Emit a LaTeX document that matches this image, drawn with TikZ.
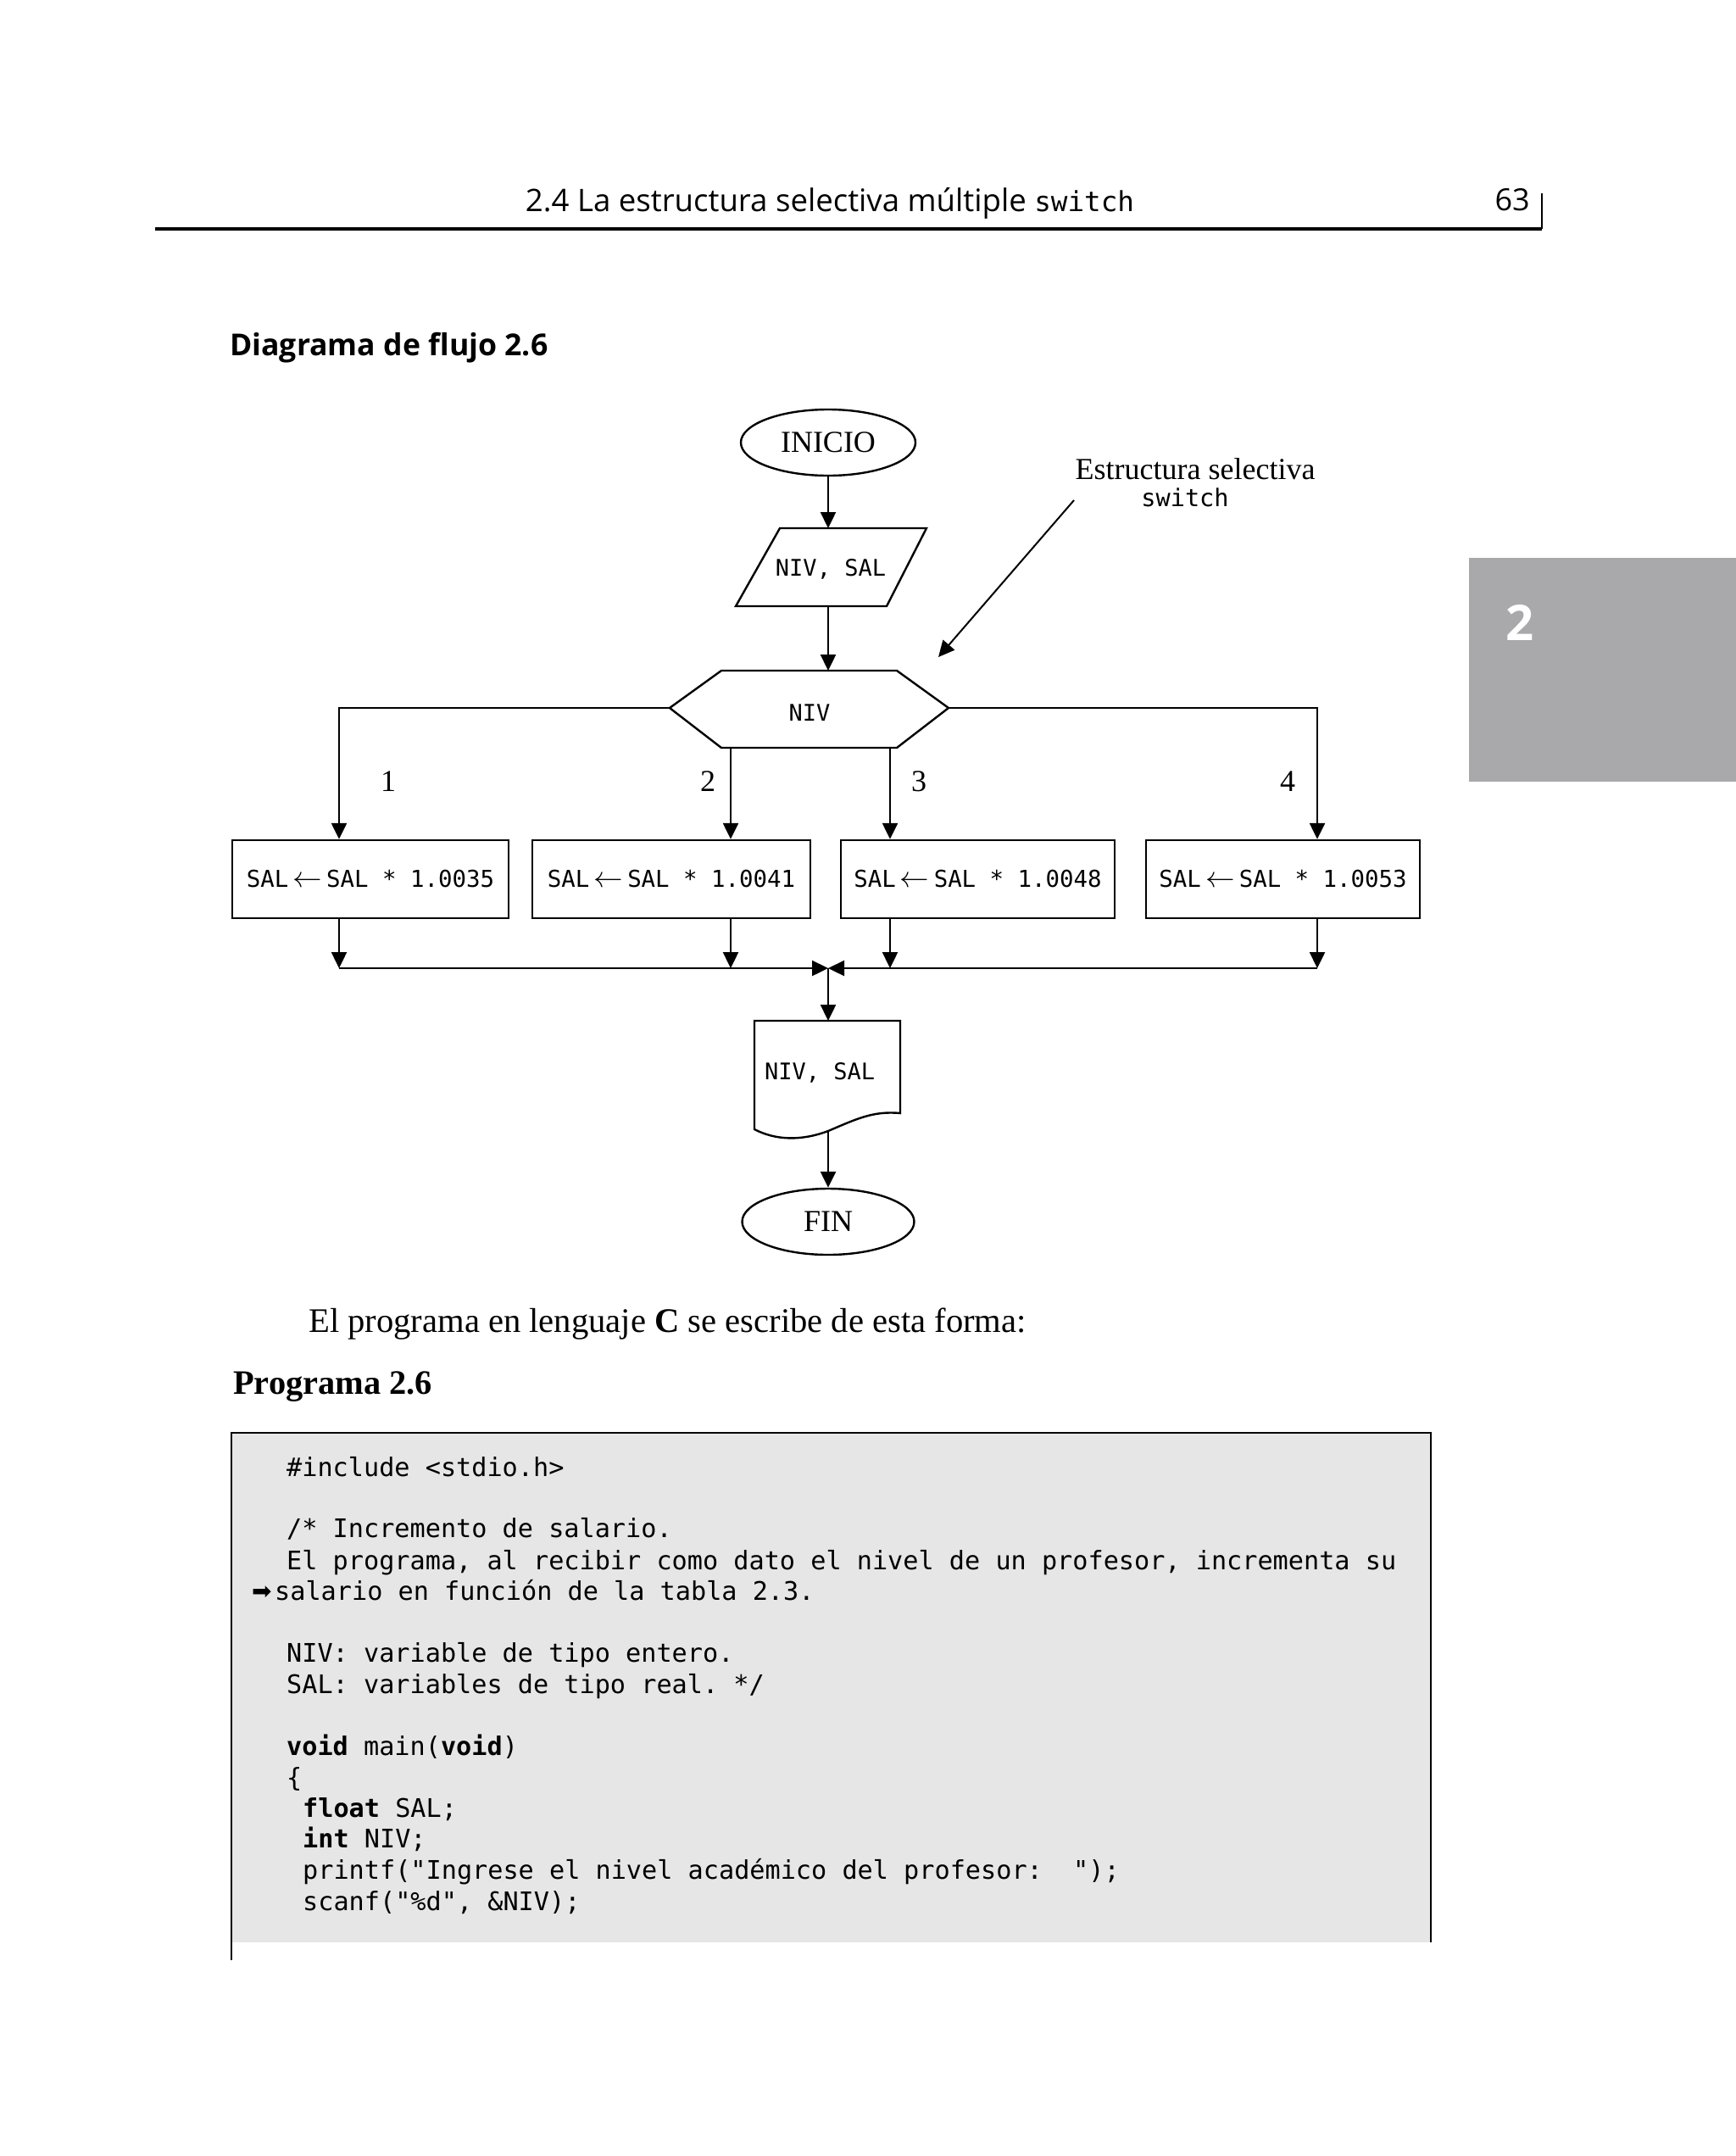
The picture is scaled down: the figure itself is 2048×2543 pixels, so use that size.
\documentclass[tikz,border=0pt]{standalone}
\usepackage{fontspec}
\setmainfont{Liberation Serif}
\newfontfamily\hdrfont{Open Sans}
\newfontfamily\monofont{DejaVu Sans Mono}
\newfontfamily\dejavufont{DejaVu Sans}
\usetikzlibrary{arrows.meta,shapes.geometric}
\definecolor{tabgray}{RGB}{169,169,171}
\definecolor{codegray}{RGB}{230,230,230}
\frenchspacing
\begin{document}
\begin{tikzpicture}[x=0.5pt,y=-0.5pt,line width=1.2pt,
  arr/.style={-{Triangle[length=9.5pt,width=9pt]}},
  term/.style={ellipse,draw,minimum width=103pt,minimum height=39pt,inner sep=0pt,font=\fontsize{18}{18}\selectfont},
  procbox/.style={rectangle,draw,minimum height=46pt,inner sep=0pt,font=\monofont\fontsize{13.7}{14}\selectfont},
  flow/.style={font=\monofont\fontsize{13.5}{14}\selectfont,inner sep=0pt},
  lbl/.style={font=\fontsize{18}{18}\selectfont,inner sep=0pt},
  codeline/.style={font=\monofont\fontsize{15.1}{15}\selectfont,inner sep=0pt,anchor=base west},
]
\useasboundingbox (0,0) rectangle (2048,2543);
\fill[white] (0,0) rectangle (2048,2543);

% ---------- page header ----------
\node[font=\hdrfont\fontsize{18.3}{18}\selectfont,anchor=base,inner sep=0pt] (hdr) at (979,249)
  {2.4 La estructura selectiva múltiple {\monofont\fontsize{16.3}{16}\selectfont switch}};
\node[font=\hdrfont\fontsize{18}{18}\selectfont,anchor=base east,inner sep=0pt] (pg) at (1806,248) {63};
\coordinate (ruleL) at (183,270);
\coordinate (ruleR) at (1819,270);
\coordinate (ruleT) at (1819,228);
\draw[line width=1.7pt] (ruleL) -- (ruleR);
\draw[line width=1pt] (ruleR) -- (ruleT);

% ---------- chapter tab ----------
\fill[tabgray] (1733,658) rectangle (2048,922);
\node[font=\hdrfont\bfseries\fontsize{29}{29}\selectfont,text=white,inner sep=0pt] (tab) at (1793,734) {2};

% ---------- title ----------
\node[font=\hdrfont\bfseries\fontsize{17.8}{17}\selectfont,anchor=base west,inner sep=0pt] (ttl) at (270,419) {Diagrama de flujo 2.6};

% ---------- flowchart ----------
\node[term] (inicio) at (977,522) {INICIO};

% input parallelogram
\coordinate (pTL) at (920,623);
\coordinate (pTR) at (1093,623);
\coordinate (pBR) at (1046,715);
\coordinate (pBL) at (868,715);
\coordinate (pTop) at (977,623);
\coordinate (pBot) at (977,715);
\draw (pTL) -- (pTR) -- (pBR) -- (pBL) -- cycle;
\node[flow] (leer) at (980,671) {NIV, SAL};
\draw[arr] (inicio.south) -- (pTop);

% hexagon (switch)
\coordinate (hW) at (790,835);
\coordinate (hTL) at (851,791);
\coordinate (hTR) at (1058,791);
\coordinate (hE) at (1119,835);
\coordinate (hBR) at (1058,882);
\coordinate (hBL) at (851,882);
\draw (hW) -- (hTL) -- (hTR) -- (hE) -- (hBR) -- (hBL) -- cycle;
\node[flow] (niv) at (955,841) {NIV};
\draw[arr] (pBot) -- (pBot |- hTL);

% process boxes
\newcommand{\salbox}[1]{SAL\makebox[3.0ex]{\fontsize{19}{19}\selectfont$\leftarrow$}SAL * #1}
\node[procbox,minimum width=163pt] (b1) at (437,1037) {\salbox{1.0035}};
\node[procbox,minimum width=164pt] (b2) at (792,1037) {\salbox{1.0041}};
\node[procbox,minimum width=161.5pt] (b3) at (1153.5,1037) {\salbox{1.0048}};
\node[procbox,minimum width=161.5pt] (b4) at (1513.5,1037) {\salbox{1.0053}};

% branches
\coordinate (k1) at (400,835);
\coordinate (k2) at (862,882);
\coordinate (k3) at (1050,882);
\coordinate (k4) at (1554,835);
\draw[arr] (hW) -- (k1) -- (k1 |- b1.north);
\draw[arr] (k2) -- (k2 |- b2.north);
\draw[arr] (k3) -- (k3 |- b3.north);
\draw[arr] (hE) -- (k4) -- (k4 |- b4.north);

\node[lbl] (l1) at (458,922) {1};
\node[lbl] (l2) at (835,922) {2};
\node[lbl] (l3) at (1084,922) {3};
\node[lbl] (l4) at (1519,922) {4};

% merge
\coordinate (m) at (977,1142);
\draw[arr] (k1 |- b1.south) -- (k1 |- m);
\draw[arr] (k2 |- b2.south) -- (k2 |- m);
\draw[arr] (k3 |- b3.south) -- (k3 |- m);
\draw[arr] (k4 |- b4.south) -- (k4 |- m);
\draw[arr] (k1 |- m) -- (m);
\draw[arr] (k4 |- m) -- (m);

% document (output)
\coordinate (dT) at (977,1204);
\coordinate (dB) at (977,1334);
\draw (890,1204) -- (1062,1204) -- (1062,1313)
  .. controls (1030,1310) and (1010,1320) .. (dB)
  .. controls (945,1346) and (915,1345) .. (890,1332) -- cycle;
\node[flow,anchor=west] (out) at (901,1265) {NIV, SAL};
\draw[arr] (m) -- (dT);

\node[term,minimum width=101.5pt] (fin) at (977,1441) {FIN};
\draw[arr] (dB) -- (fin.north);

% annotation
\node[lbl,anchor=base] (ann1) at (1410,565) {Estructura selectiva};
\node[font=\monofont\fontsize{14.3}{14}\selectfont,inner sep=0pt,anchor=base] (ann2) at (1398,597) {switch};
\coordinate (aS) at (1267,590);
\coordinate (aT) at (1107,775);
\draw[arr,line width=1pt] (aS) -- (aT);

% ---------- body text ----------
\node[font=\fontsize{20.3}{20}\selectfont,anchor=base west,inner sep=0pt] (txt) at (363,1571)
  {El programa en lenguaje \textbf{C} se escribe de esta forma:};
\node[font=\bfseries\fontsize{20.2}{20}\selectfont,anchor=base west,inner sep=0pt] (prog) at (274,1644)
  {Programa 2.6};

% ---------- code box ----------
\fill[codegray] (273,1690) rectangle (1688,2291);
\draw (273,2312) -- (273,1690) -- (1688,1690) -- (1688,2291);

\node[codeline] (c1) at (337,1741) {\#include <stdio.h>};
\node[codeline] (c2) at (337,1813) {/* Incremento de salario.};
\node[codeline] (c3) at (337,1851) {El programa, al recibir como dato el nivel de un profesor, incrementa su};
\node[font=\dejavufont\fontsize{14}{14}\selectfont,inner sep=0pt,anchor=base west] (c4a) at (296,1886) {➡};
\node[codeline] (c4) at (323,1887) {salario en función de la tabla 2.3.};
\node[codeline] (c5) at (337,1960) {NIV: variable de tipo entero.};
\node[codeline] (c6) at (337,1997) {SAL: variables de tipo real. */};
\node[codeline] (c7) at (337,2070) {\textbf{void} main(\textbf{void})};
\node[codeline] (c8) at (337,2107) {\{};
\node[codeline] (c9) at (356,2143) {\textbf{float} SAL;};
\node[codeline] (c10) at (356,2179) {\textbf{int} NIV;};
\node[codeline] (c11) at (356,2216) {printf("Ingrese el nivel académico del profesor:\ \ ");};
\node[codeline] (c12) at (356,2253) {scanf("\%d", \&NIV);};
\end{tikzpicture}
\end{document}
